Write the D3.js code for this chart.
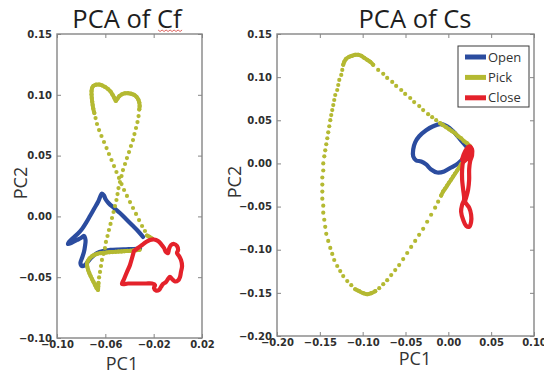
<!DOCTYPE html>
<html><head><meta charset="utf-8">
<script src="https://cdn.jsdelivr.net/npm/d3@7"></script>
<style>body{margin:0;background:#fff}</style></head>
<body><svg id="c" width="544" height="374"></svg>
<script>
// ---------- DATA ----------
const seriesNames = ["Open", "Pick", "Close"];
const seriesColors = ["#2b4c9f", "#b4b932", "#e4222b"];

const cfXTicks = [-0.10, -0.06, -0.02, 0.02];
const cfYTicks = [-0.10, -0.05, 0.00, 0.05, 0.10, 0.15];
const csXTicks = [-0.20, -0.15, -0.10, -0.05, 0.00, 0.05, 0.10];
const csYTicks = [-0.20, -0.15, -0.10, -0.05, 0.00, 0.05, 0.10, 0.15];

// PCA of Cf
const cfOpen = [[-0.0288,-0.0169],[-0.0330,-0.0120],[-0.0379,-0.0071],[-0.0429,-0.0021],[-0.0479,0.0028],[-0.0528,0.0069],[-0.0574,0.0110],[-0.0599,0.0143],[-0.0611,0.0172],[-0.0628,0.0188],[-0.0640,0.0168],[-0.0661,0.0118],[-0.0694,0.0061],[-0.0727,0.0003],[-0.0760,-0.0054],[-0.0793,-0.0104],[-0.0826,-0.0141],[-0.0868,-0.0178],[-0.0901,-0.0210],[-0.0909,-0.0227],[-0.0876,-0.0215],[-0.0835,-0.0194],[-0.0802,-0.0178],[-0.0777,-0.0161],[-0.0764,-0.0194],[-0.0768,-0.0243],[-0.0777,-0.0293],[-0.0793,-0.0342],[-0.0806,-0.0383],[-0.0793,-0.0408],[-0.0768,-0.0399],[-0.0744,-0.0371],[-0.0710,-0.0334],[-0.0669,-0.0301],[-0.0619,-0.0284],[-0.0561,-0.0276],[-0.0495,-0.0272],[-0.0429,-0.0270],[-0.0363,-0.0268],[-0.0313,-0.0264]];

const cfPick = [[-0.0214,-0.0182],[-0.0234,-0.0169],[-0.0255,-0.0157],[-0.0272,-0.0120],[-0.0296,-0.0079],[-0.0321,-0.0030],[-0.0346,0.0020],[-0.0371,0.0069],[-0.0396,0.0118],[-0.0421,0.0168],[-0.0445,0.0217],[-0.0466,0.0266],[-0.0487,0.0316],[-0.0508,0.0365],[-0.0528,0.0414],[-0.0549,0.0464],[-0.0570,0.0513],[-0.0590,0.0562],[-0.0611,0.0612],[-0.0632,0.0661],[-0.0652,0.0710],[-0.0669,0.0760],[-0.0681,0.0809],[-0.0691,0.0850],
[-0.0700,0.0887],[-0.0705,0.0916],[-0.0709,0.0944],[-0.0712,0.0973],[-0.0714,0.1002],[-0.0714,0.1031],[-0.0710,0.1055],[-0.0698,0.1074],[-0.0677,0.1083],[-0.0652,0.1084],[-0.0628,0.1078],[-0.0603,0.1065],[-0.0578,0.1047],[-0.0557,0.1027],[-0.0541,0.1002],[-0.0526,0.0975],[-0.0513,0.0949],[-0.0499,0.0969],[-0.0483,0.0990],[-0.0462,0.1004],[-0.0437,0.1012],[-0.0412,0.1013],[-0.0388,0.1009],[-0.0363,0.1000],[-0.0342,0.0983],[-0.0327,0.0961],[-0.0319,0.0936],[-0.0316,0.0907],[-0.0319,0.0879],
[-0.0325,0.0825],[-0.0334,0.0776],[-0.0346,0.0727],[-0.0359,0.0677],[-0.0371,0.0628],[-0.0388,0.0579],[-0.0404,0.0529],[-0.0421,0.0480],[-0.0437,0.0431],[-0.0454,0.0381],[-0.0466,0.0332],[-0.0479,0.0283],[-0.0491,0.0233],[-0.0499,0.0184],[-0.0508,0.0135],[-0.0520,0.0085],[-0.0532,0.0036],[-0.0545,-0.0013],[-0.0557,-0.0062],[-0.0570,-0.0112],[-0.0582,-0.0161],[-0.0595,-0.0210],[-0.0603,-0.0260],[-0.0615,-0.0309],[-0.0628,-0.0358],[-0.0636,-0.0408],[-0.0644,-0.0457],[-0.0652,-0.0502],[-0.0657,-0.0547],[-0.0659,-0.0576],[-0.0661,-0.0605],
[-0.0673,-0.0589],[-0.0686,-0.0564],[-0.0698,-0.0539],[-0.0710,-0.0515],[-0.0722,-0.0490],[-0.0733,-0.0465],[-0.0742,-0.0441],[-0.0749,-0.0416],[-0.0752,-0.0391],[-0.0745,-0.0367],[-0.0731,-0.0346],[-0.0712,-0.0328],[-0.0690,-0.0316],[-0.0665,-0.0307],[-0.0640,-0.0302],[-0.0615,-0.0299],[-0.0590,-0.0297],[-0.0566,-0.0294],[-0.0541,-0.0293],[-0.0516,-0.0291],[-0.0491,-0.0289],[-0.0466,-0.0288],[-0.0441,-0.0286],[-0.0416,-0.0284],[-0.0392,-0.0283],[-0.0367,-0.0280],[-0.0342,-0.0278],[-0.0317,-0.0275]];

const cfClose = [[-0.0363,-0.0284],[-0.0330,-0.0260],[-0.0296,-0.0235],[-0.0263,-0.0210],[-0.0230,-0.0194],[-0.0197,-0.0190],[-0.0164,-0.0202],[-0.0139,-0.0227],[-0.0114,-0.0260],[-0.0098,-0.0293],[-0.0081,-0.0301],[-0.0073,-0.0268],[-0.0056,-0.0235],[-0.0031,-0.0227],[-0.0007,-0.0243],[0.0002,-0.0276],[-0.0007,-0.0301],[0.0010,-0.0326],[0.0026,-0.0358],[0.0035,-0.0408],[0.0026,-0.0457],[0.0018,-0.0498],[0.0002,-0.0527],[-0.0023,-0.0535],[-0.0048,-0.0515],[-0.0065,-0.0498],[-0.0081,-0.0515],[-0.0098,-0.0539],[-0.0123,-0.0556],[-0.0139,-0.0580],[-0.0156,-0.0605],[-0.0181,-0.0609],[-0.0197,-0.0589],[-0.0189,-0.0564],[-0.0214,-0.0552],[-0.0263,-0.0552],[-0.0313,-0.0552],[-0.0363,-0.0552],[-0.0412,-0.0552],[-0.0462,-0.0556],[-0.0445,-0.0515],[-0.0421,-0.0457],[-0.0396,-0.0399],[-0.0379,-0.0342],[-0.0363,-0.0284]];

// PCA of Cs
const csOpen = [[0.0219,0.0187],[0.0138,0.0280],[0.0056,0.0373],[-0.0014,0.0431],[-0.0096,0.0455],[-0.0177,0.0431],[-0.0259,0.0385],[-0.0340,0.0315],[-0.0387,0.0245],[-0.0410,0.0163],[-0.0410,0.0082],[-0.0375,0.0035],[-0.0317,0.0023],[-0.0259,-0.0012],[-0.0201,-0.0070],[-0.0131,-0.0105],[-0.0049,-0.0093],[0.0033,-0.0047],[0.0114,0.0000],[0.0184,0.0070],[0.0231,0.0140]];

const csPick = [[0.0254,0.0198],[0.0219,0.0233],[0.0184,0.0257],[0.0149,0.0292],[0.0114,0.0315],[0.0079,0.0350],[0.0044,0.0373],[0.0009,0.0396],[-0.0026,0.0420],[-0.0061,0.0443],[-0.0096,0.0466],
[-0.0142,0.0501],[-0.0189,0.0536],[-0.0236,0.0571],[-0.0294,0.0618],[-0.0340,0.0665],[-0.0399,0.0711],[-0.0445,0.0758],[-0.0504,0.0805],[-0.0550,0.0851],[-0.0609,0.0898],[-0.0655,0.0944],[-0.0714,0.0991],[-0.0760,0.1038],[-0.0819,0.1084],
[-0.0877,0.1143],[-0.0912,0.1178],[-0.0947,0.1201],[-0.0982,0.1224],[-0.1017,0.1248],[-0.1052,0.1259],[-0.1087,0.1259],[-0.1122,0.1248],[-0.1157,0.1236],[-0.1192,0.1213],[-0.1215,0.1178],[-0.1227,0.1143],
[-0.1238,0.1084],[-0.1250,0.1026],[-0.1273,0.0968],[-0.1285,0.0909],[-0.1297,0.0851],[-0.1320,0.0793],[-0.1332,0.0735],[-0.1343,0.0676],[-0.1355,0.0618],[-0.1367,0.0560],[-0.1378,0.0501],[-0.1390,0.0431],[-0.1402,0.0361],[-0.1413,0.0292],[-0.1425,0.0222],[-0.1437,0.0152],[-0.1448,0.0082],[-0.1460,0.0000],[-0.1460,-0.0082],[-0.1471,-0.0163],[-0.1471,-0.0245],[-0.1471,-0.0326],[-0.1471,-0.0408],[-0.1460,-0.0490],[-0.1460,-0.0571],[-0.1448,-0.0653],[-0.1437,-0.0735],[-0.1425,-0.0816],[-0.1402,-0.0898],[-0.1378,-0.0979],[-0.1355,-0.1049],[-0.1332,-0.1119],[-0.1297,-0.1189],[-0.1262,-0.1248],[-0.1227,-0.1306],[-0.1180,-0.1364],[-0.1133,-0.1411],[-0.1087,-0.1458],[-0.1040,-0.1481],[-0.0993,-0.1504],[-0.0947,-0.1516],
[-0.0900,-0.1504],[-0.0853,-0.1481],[-0.0807,-0.1446],[-0.0760,-0.1399],[-0.0714,-0.1353],[-0.0667,-0.1294],[-0.0620,-0.1236],[-0.0574,-0.1178],[-0.0527,-0.1108],[-0.0480,-0.1038],[-0.0434,-0.0968],[-0.0387,-0.0898],[-0.0341,-0.0828],[-0.0294,-0.0758],[-0.0247,-0.0676],[-0.0201,-0.0595],[-0.0154,-0.0513],[-0.0119,-0.0443],[-0.0084,-0.0373],
[-0.0061,-0.0326],[-0.0037,-0.0292],[-0.0014,-0.0257],[0.0009,-0.0222],[0.0033,-0.0187],[0.0056,-0.0152],[0.0079,-0.0117],[0.0103,-0.0082],[0.0126,-0.0047],[0.0149,-0.0012],[0.0173,0.0023],[0.0196,0.0070],[0.0219,0.0117],[0.0243,0.0163]];

const csClose = [[0.0161,0.0047],[0.0196,0.0140],[0.0243,0.0198],[0.0277,0.0163],[0.0277,0.0093],[0.0254,0.0023],[0.0243,-0.0070],[0.0243,-0.0187],[0.0231,-0.0303],[0.0208,-0.0396],[0.0196,-0.0443],[0.0243,-0.0513],[0.0266,-0.0595],[0.0266,-0.0676],[0.0243,-0.0734],[0.0208,-0.0723],[0.0173,-0.0653],[0.0149,-0.0560],[0.0161,-0.0478],[0.0184,-0.0420],[0.0173,-0.0303],[0.0161,-0.0187],[0.0161,-0.0070],[0.0173,0.0023],[0.0208,0.0105],[0.0254,0.0163],[0.0266,0.0128],[0.0231,0.0070],[0.0184,0.0023]];

// ---------- DRAWING ----------
const svg = d3.select("#c");
svg.append("rect").attr("width",544).attr("height",374).attr("fill","#fff");
const frameColor = "#858585";
const fmt = d3.format(".2f");

const panels = [
  {title:"PCA of Cf", titleX:127, labelX1:122, labelY1:370, labelX2:20, xDomain:[-0.10,0.02], yDomain:[-0.10,0.15],
   xTicks:cfXTicks, yTicks:cfYTicks, left:57, right:202, top:34, bottom:338, data:[cfOpen,cfPick,cfClose], legend:false, squiggle:true},
  {title:"PCA of Cs", titleX:415, labelX1:415, labelY1:365, labelX2:234, xDomain:[-0.20,0.10], yDomain:[-0.20,0.15],
   xTicks:csXTicks, yTicks:csYTicks, left:277, right:534, top:34, bottom:336, data:[csOpen,csPick,csClose], legend:true, squiggle:false}
];

function styleAxis(sel){
  sel.select(".domain").remove();
  sel.selectAll(".tick line").attr("stroke", frameColor).attr("stroke-width",1);
  sel.selectAll(".tick text").attr("font-family","DejaVu Sans").attr("font-weight","bold")
     .attr("font-size","10px").attr("fill","#2e2e2e");
}

function drawLineSeries(g, pts, x, y, color){
  g.append("path")
    .attr("d", d3.line().x(d=>x(d[0])).y(d=>y(d[1])).curve(d3.curveCatmullRom)(pts))
    .attr("fill","none").attr("stroke",color).attr("stroke-width",4.2)
    .attr("stroke-linejoin","round").attr("stroke-linecap","round");
}

function drawDotSeries(g, pts, x, y, color){
  const P = pts.map(d=>[x(d[0]), y(d[1])]);
  const runs = []; let cur = [P[0]];
  for (let i=1;i<P.length;i++){
    const dist = Math.hypot(P[i][0]-P[i-1][0], P[i][1]-P[i-1][1]);
    if (dist < 4.7) cur.push(P[i]); else { runs.push(cur); cur=[P[i]]; }
  }
  runs.push(cur);
  runs.filter(r=>r.length>1).forEach(r=>{
    g.append("path").attr("d", d3.line().curve(d3.curveCatmullRom)(r))
      .attr("fill","none").attr("stroke",color).attr("stroke-width",4)
      .attr("stroke-linecap","round").attr("stroke-linejoin","round");
  });
  g.append("g").selectAll("circle").data(P).join("circle")
    .attr("cx",d=>d[0]).attr("cy",d=>d[1]).attr("r",2.1).attr("fill",color);
}

panels.forEach(cfg=>{
  const g = svg.append("g");
  const x = d3.scaleLinear().domain(cfg.xDomain).range([cfg.left, cfg.right]);
  const y = d3.scaleLinear().domain(cfg.yDomain).range([cfg.bottom, cfg.top]);

  g.append("rect").attr("x",cfg.left).attr("y",cfg.top)
    .attr("width",cfg.right-cfg.left).attr("height",cfg.bottom-cfg.top)
    .attr("fill","#fff");

  const clipId = "clip"+cfg.left;
  svg.append("clipPath").attr("id",clipId).append("rect")
    .attr("x",cfg.left).attr("y",cfg.top).attr("width",cfg.right-cfg.left).attr("height",cfg.bottom-cfg.top);
  const plot = g.append("g").attr("clip-path",`url(#${clipId})`);

  drawLineSeries(plot, cfg.data[0], x, y, seriesColors[0]);
  drawDotSeries(plot, cfg.data[1], x, y, seriesColors[1]);
  drawLineSeries(plot, cfg.data[2], x, y, seriesColors[2]);

  // axes with inward ticks on all four sides
  g.append("g").attr("transform",`translate(0,${cfg.bottom})`)
    .call(d3.axisBottom(x).tickValues(cfg.xTicks).tickFormat(fmt).tickSizeInner(-4).tickSizeOuter(0).tickPadding(3))
    .call(styleAxis);
  g.append("g").attr("transform",`translate(0,${cfg.top})`)
    .call(d3.axisTop(x).tickValues(cfg.xTicks).tickFormat(()=>"").tickSizeInner(-4).tickSizeOuter(0))
    .call(styleAxis);
  g.append("g").attr("transform",`translate(${cfg.left},0)`)
    .call(d3.axisLeft(y).tickValues(cfg.yTicks).tickFormat(fmt).tickSizeInner(-4).tickSizeOuter(0).tickPadding(5))
    .call(styleAxis);
  g.append("g").attr("transform",`translate(${cfg.right},0)`)
    .call(d3.axisRight(y).tickValues(cfg.yTicks).tickFormat(()=>"").tickSizeInner(-4).tickSizeOuter(0))
    .call(styleAxis);

  g.append("rect").attr("x",cfg.left).attr("y",cfg.top)
    .attr("width",cfg.right-cfg.left).attr("height",cfg.bottom-cfg.top)
    .attr("fill","none").attr("stroke",frameColor).attr("stroke-width",1.4);

  // title and axis labels
  const title = g.append("text").attr("x",cfg.titleX).attr("y",28).attr("text-anchor","middle")
    .attr("font-family","Open Sans").attr("font-size","25.5px").attr("fill","#1e1e1e").text(cfg.title);
  g.append("text").attr("x",cfg.labelX1).attr("y",cfg.labelY1).attr("text-anchor","middle")
    .attr("font-family","Open Sans").attr("font-size","18px").attr("fill","#333").text("PC1");
  g.append("text").attr("transform",`translate(${cfg.labelX2 + 7},${(cfg.top+cfg.bottom)/2 - 3}) rotate(-90)`)
    .attr("text-anchor","middle").attr("font-family","Open Sans").attr("font-size","18px").attr("fill","#333").text("PC2");

  if (cfg.squiggle){
    // spell-check underline under "Cf"
    const bb = title.node().getBBox();
    const x0 = bb.x + bb.width - 25, x1 = bb.x + bb.width;
    let dStr = `M${x0},30`;
    for (let xx = x0+2, k=0; xx <= x1; xx += 2, k++) dStr += ` L${xx},${k%2===0?31.5:30}`;
    g.append("path").attr("d",dStr).attr("fill","none").attr("stroke","#d9534f").attr("stroke-width",0.9);
  }

  if (cfg.legend){
    const lg = g.append("g");
    lg.append("rect").attr("x",458).attr("y",46).attr("width",71).attr("height",61)
      .attr("fill","#fff").attr("stroke","#3a3a3a").attr("stroke-width",1);
    seriesNames.forEach((name,i)=>{
      const yy = 57 + i*20.4;
      lg.append("line").attr("x1",465).attr("x2",486).attr("y1",yy).attr("y2",yy)
        .attr("stroke",seriesColors[i]).attr("stroke-width",5);
      lg.append("text").attr("x",488).attr("y",yy+4.5).attr("font-family","Open Sans")
        .attr("font-size","13px").attr("fill","#333").text(name);
    });
  }
});
</script>
</body></html>
